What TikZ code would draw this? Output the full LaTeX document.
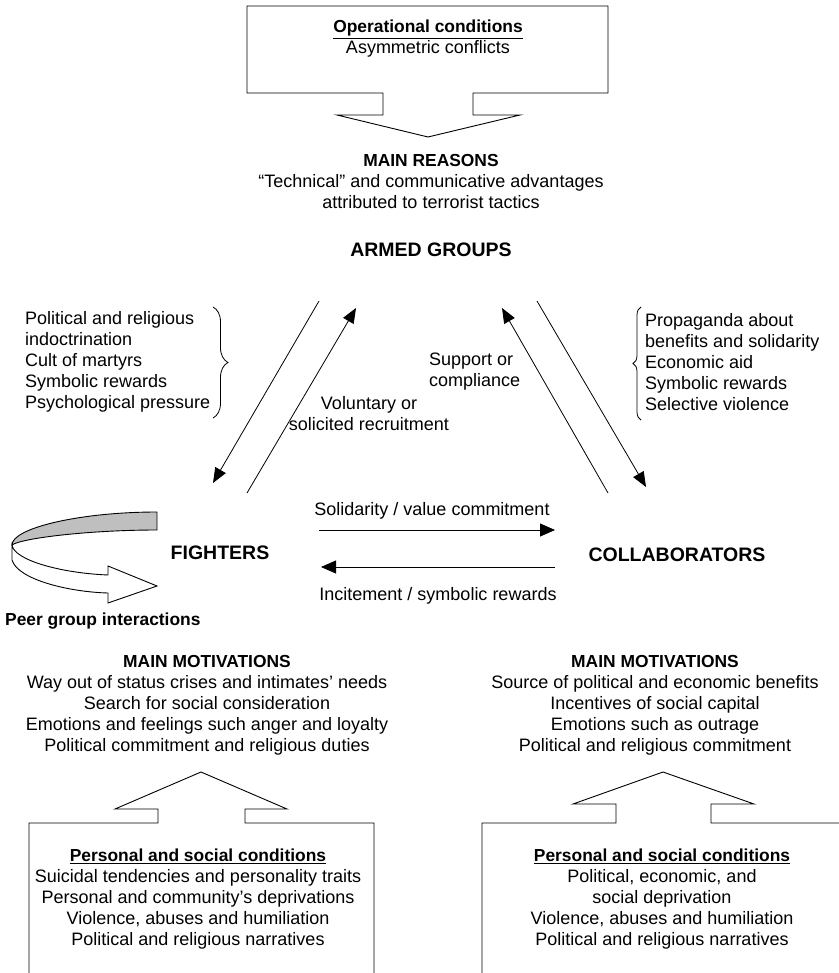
\documentclass[tikz,border=0pt]{standalone}
\usepackage{fontspec}
\setmainfont{Liberation Sans}
\usetikzlibrary{arrows.meta,decorations.pathreplacing}
\newcommand\myhb[1]{{\fontsize{17.4}{21}\selectfont\bfseries #1}}
\begin{document}
\begin{tikzpicture}[x=1pt,y=-1pt,
  txt/.style={font=\fontsize{18}{21}\selectfont, align=center, inner sep=0pt},
  ltxt/.style={font=\fontsize{18}{21}\selectfont, align=left, inner sep=0pt, anchor=west},
  hd/.style={font=\fontsize{19.5}{23}\selectfont\bfseries, inner sep=0pt},
  outl/.style={draw=black, line width=0.9pt, line join=miter},
  arr/.style={draw=black, line width=0.8pt, -{Triangle[length=15pt,width=12pt]}},
  harr/.style={draw=black, line width=0.8pt, -{Triangle[length=15pt,width=13pt]}},
  brc/.style={draw=black, line width=0.8pt, decorate},
]
\useasboundingbox (0,0) rectangle (838,973);

% ---- top box with down arrow
\draw[outl] (247,93) -- (247,6) -- (608,6) -- (608,93) -- (473,93) -- (473,115)
  -- (520,115) -- (428,137) -- (337,115) -- (383,115) -- (383,93) -- cycle;
\node[txt] (opc) at (428,39) {\underline{\myhb{Operational conditions}}\\Asymmetric conflicts};

% ---- main reasons
\node[txt] (reasons) at (431,182) {\myhb{MAIN REASONS}\\“Technical” and communicative advantages\\attributed to terrorist tactics};
\node[hd] (armed) at (431,250) {ARMED GROUPS};
\node[hd] (fighters) at (220,553) {FIGHTERS};
\node[hd] (collab) at (677,555) {COLLABORATORS};

% ---- diagonal arrows
\coordinate (fa1) at (319,301); \coordinate (fa2) at (213,483);
\coordinate (fb1) at (247,493); \coordinate (fb2) at (356,308);
\coordinate (ca1) at (608,493); \coordinate (ca2) at (502,308);
\coordinate (cb1) at (537,301); \coordinate (cb2) at (646,487);
\draw[arr] (fa1) -- (fa2);
\draw[arr] (fb1) -- (fb2);
\draw[arr] (ca1) -- (ca2);
\draw[arr] (cb1) -- (cb2);

\node[txt, align=center] (volun) at (369,414) {Voluntary or\\solicited recruitment};
\node[ltxt] (support) at (429,372) {Support or\\compliance};

% ---- braces and lists
\node[ltxt] (leftlist) at (25,362) {Political and religious\\indoctrination\\Cult of martyrs\\Symbolic rewards\\Psychological pressure};
\draw[brc, decoration={brace,amplitude=15pt}] (213,307) -- (213,418);
\node[ltxt] (rightlist) at (645,362) {Propaganda about\\benefits and solidarity\\Economic aid\\Symbolic rewards\\Selective violence};
\draw[brc, decoration={brace,amplitude=8pt}] (641,420) -- (641,307);

% ---- horizontal arrows
\coordinate (h1) at (319,530); \coordinate (h2) at (555,530);
\coordinate (h3) at (555,567); \coordinate (h4) at (321,567);
\draw[harr] (h1) -- (h2);
\draw[harr] (h3) -- (h4);
\node[txt] (sol) at (432,511) {Solidarity / value commitment};
\node[txt] (inc) at (438,596) {Incitement / symbolic rewards};

% ---- peer group curved arrow
\filldraw[outl, fill=black!25] (157,512) .. controls (80,512) and (12,528) .. (12,545)
  .. controls (22,538) and (90,530) .. (157,530) -- cycle;
\filldraw[outl, fill=white] (12,545) -- (12,560) .. controls (18,580) and (70,592) .. (108,593)
  -- (108,603) -- (157,586) -- (108,566) -- (108,575)
  .. controls (60,573) and (14,560) .. (12,545) -- cycle;
\node[font=\fontsize{17.4}{21}\selectfont\bfseries, inner sep=0pt, anchor=west] (peer) at (5,621) {Peer group interactions};

% ---- main motivations
\node[txt] (motl) at (207,705) {\myhb{MAIN MOTIVATIONS}\\Way out of status crises and intimates’ needs\\Search for social consideration\\Emotions and feelings such anger and loyalty\\Political commitment and religious duties};
\node[txt] (motr) at (655,705) {\myhb{MAIN MOTIVATIONS}\\Source of political and economic benefits\\Incentives of social capital\\Emotions such as outrage\\Political and religious commitment};

% ---- bottom boxes with up arrows
\draw[outl] (29,974) -- (29,823) -- (158,823) -- (158,809) -- (115,809) -- (201,772)
  -- (287,809) -- (245,809) -- (245,823) -- (374,823) -- (374,974);
\draw[outl] (482,974) -- (482,823) -- (616,823) -- (616,804) -- (573,804) -- (663,772)
  -- (754,804) -- (711,804) -- (711,823) -- (839,823);
\node[txt] (pscl) at (198,899) {\underline{\myhb{Personal and social conditions}}\\Suicidal tendencies and personality traits\\Personal and community’s deprivations\\Violence, abuses and humiliation\\Political and religious narratives};
\node[txt] (pscr) at (662,899) {\underline{\myhb{Personal and social conditions}}\\Political, economic, and\\social deprivation\\Violence, abuses and humiliation\\Political and religious narratives};
\end{tikzpicture}
\end{document}
